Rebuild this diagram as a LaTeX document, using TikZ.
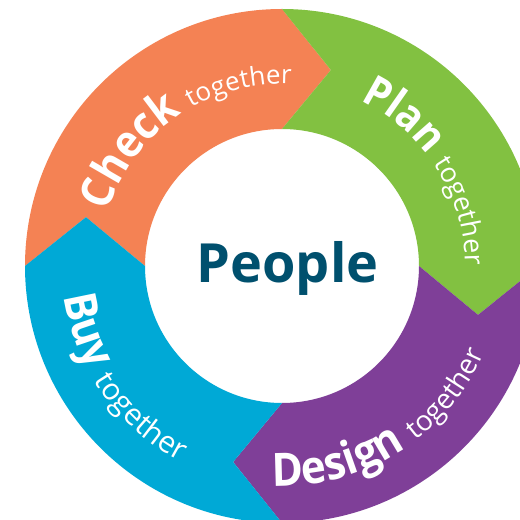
\documentclass[tikz,border=0pt]{standalone}
\usepackage{fontspec}
\setmainfont{Open Sans}
\newfontfamily\ringfont{Open Sans}[FakeStretch=0.92]
\usetikzlibrary{decorations.text}
\definecolor{cOrange}{RGB}{244,130,84}
\definecolor{cGreen}{RGB}{130,193,65}
\definecolor{cPurple}{RGB}{127,63,152}
\definecolor{cBlue}{RGB}{0,169,214}
\definecolor{cPeople}{RGB}{0,80,110}
\newcommand\wbig[1]{\ringfont\fontsize{#1}{#1}\selectfont\bfseries}
\newcommand\wsmall[1]{\normalfont\fontsize{#1}{#1}\selectfont\mdseries}
\newcommand\ringsegment[2]{%
  \pgfmathsetmacro\ea{#2-90}%
  \pgfmathsetmacro\ta{#2-90-14}%
  \pgfmathsetmacro\na{#2-14}%
  \fill[#1] (#2:257) arc[start angle=#2, end angle=\ea, radius=257]
    -- (\ta:202) -- (\ea:137) arc[start angle=\ea, end angle=#2, radius=137]
    -- (\na:202) -- cycle;}
\tikzset{ringtext/.style={decorate, decoration={text along path, text color=white, text={#1}}}}
\begin{document}
\begin{tikzpicture}[x=1pt,y=1pt]
\useasboundingbox (0,0) rectangle (520,520);
\clip (0,0) rectangle (520,520);
\fill[white] (0,0) rectangle (520,520);
\begin{scope}[shift={(282,254)}]
  \ringsegment{cOrange}{180}
  \ringsegment{cGreen}{90}
  \ringsegment{cPurple}{0}
  \ringsegment{cBlue}{-90}
  \path[ringtext={|\wbig{45}|Check |\wsmall{26}|together}] (162.5:182) arc[start angle=162.5, end angle=40, radius=182];
  \path[ringtext={|\wbig{43}|Plan |\wsmall{27}|together}] (64.5:183) arc[start angle=64.5, end angle=-60, radius=183];
  \path[ringtext={|\wbig{46}|Design |\wsmall{28}|together}] (-92.5:220) arc[start angle=-92.5, end angle=30, radius=220];
  \path[ringtext={|\wbig{45}|Buy |\wsmall{30}|together}] (188:220) arc[start angle=188, end angle=300, radius=220];
\end{scope}
\node[text=cPeople, font=\fontsize{54}{64}\selectfont\bfseries, inner sep=0, anchor=base] (people) at (287.5,237) {People};
\end{tikzpicture}
\end{document}
